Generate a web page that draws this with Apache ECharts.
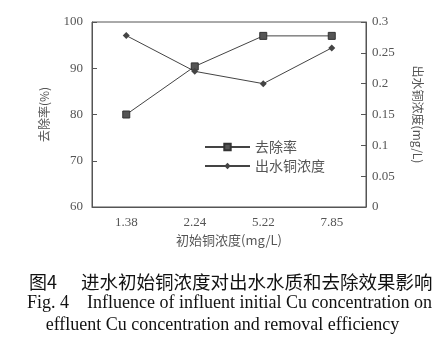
<!DOCTYPE html>
<html><head><meta charset="utf-8">
<script src="https://cdn.jsdelivr.net/npm/echarts@6/dist/echarts.min.js"></script>
<style>html,body{margin:0;padding:0;background:#fff}#c{width:445px;height:352px}</style>
</head><body><div id="c"></div>
<script>
const categories = ['1.38', '2.24', '5.22', '7.85'];
const removalRate = [80, 90.4, 97, 97];
const effluentCu = [0.278, 0.22, 0.2, 0.258];
const leftTicks = [60, 100, 10];
const rightTicks = [0, 0.3, 0.05];
const captionCNLabel = '图4';
const captionCN = '进水初始铜浓度对出水水质和去除效果影响';
const captionEN1 = 'Fig. 4    Influence of influent initial Cu concentration on';
const captionEN2 = 'effluent Cu concentration and removal efficiency';

const ink = '#555';
const serif = '"Liberation Serif", "Noto Sans CJK SC", serif';
const cjk = '"Noto Sans CJK SC", sans-serif';
const chart = echarts.init(document.getElementById('c'), null, {renderer: 'canvas'});
chart.setOption({
  animation: false,
  backgroundColor: '#fff',
  grid: {left: 92, right: 79, top: 22, bottom: 145, show: true, borderColor: ink, borderWidth: 1},
  legend: {
    left: 199, top: 135, orient: 'vertical', itemWidth: 45, itemHeight: 8, itemGap: 5,
    textStyle: {fontFamily: cjk, fontSize: 14, color: ink},
    data: ['去除率', '出水铜浓度']
  },
  xAxis: {
    type: 'category', data: categories,
    name: '初始铜浓度(mg/L)', nameLocation: 'middle', nameGap: 26,
    nameTextStyle: {fontFamily: cjk, fontSize: 13, color: ink},
    axisLine: {lineStyle: {color: ink}},
    axisTick: {inside: true, alignWithLabel: true, length: 5, lineStyle: {color: ink}},
    axisLabel: {fontFamily: serif, fontSize: 13, color: ink, margin: 9}
  },
  yAxis: [{
    type: 'value', min: leftTicks[0], max: leftTicks[1], interval: leftTicks[2], position: 'left',
    name: '去除率(%)', nameLocation: 'middle', nameGap: 42,
    nameTextStyle: {fontFamily: cjk, fontSize: 12, color: ink},
    axisLine: {show: true, lineStyle: {color: ink}},
    axisTick: {show: true, inside: true, length: 5, lineStyle: {color: ink}},
    axisLabel: {fontFamily: serif, fontSize: 13, color: ink, margin: 9},
    splitLine: {show: false}
  }, {
    type: 'value', min: rightTicks[0], max: rightTicks[1], interval: rightTicks[2], position: 'right',
    name: '出水铜浓度(mg/L)', nameLocation: 'middle', nameGap: 46, nameRotate: -90,
    nameTextStyle: {fontFamily: cjk, fontSize: 12, color: ink},
    axisLine: {show: true, lineStyle: {color: ink}},
    axisTick: {show: true, inside: true, length: 5, lineStyle: {color: ink}},
    axisLabel: {fontFamily: serif, fontSize: 13, color: ink, margin: 6, formatter: v => String(+v.toFixed(2))},
    splitLine: {show: false}
  }],
  series: [{
    name: '去除率', type: 'line', yAxisIndex: 0, data: removalRate,
    symbol: 'rect', symbolSize: 7,
    lineStyle: {color: '#444', width: 1},
    itemStyle: {color: '#555', borderColor: '#333', borderWidth: 1}
  }, {
    name: '出水铜浓度', type: 'line', yAxisIndex: 1, data: effluentCu,
    symbol: 'diamond', symbolSize: 7,
    lineStyle: {color: '#444', width: 1},
    itemStyle: {color: '#444', borderColor: '#333', borderWidth: 0}
  }],
  graphic: [
    {type: 'text', left: 29, top: 273, style: {text: captionCNLabel, font: '18px ' + cjk, fill: '#111'}},
    {type: 'text', left: 81, top: 273, style: {text: captionCN, font: '18.5px ' + cjk, fill: '#111'}},
    {type: 'text', left: 27, top: 294, style: {text: captionEN1, font: '18px ' + serif, fill: '#111'}},
    {type: 'text', left: 'center', top: 316, style: {text: captionEN2, font: '18px ' + serif, fill: '#111'}}
  ]
});
</script></body></html>
